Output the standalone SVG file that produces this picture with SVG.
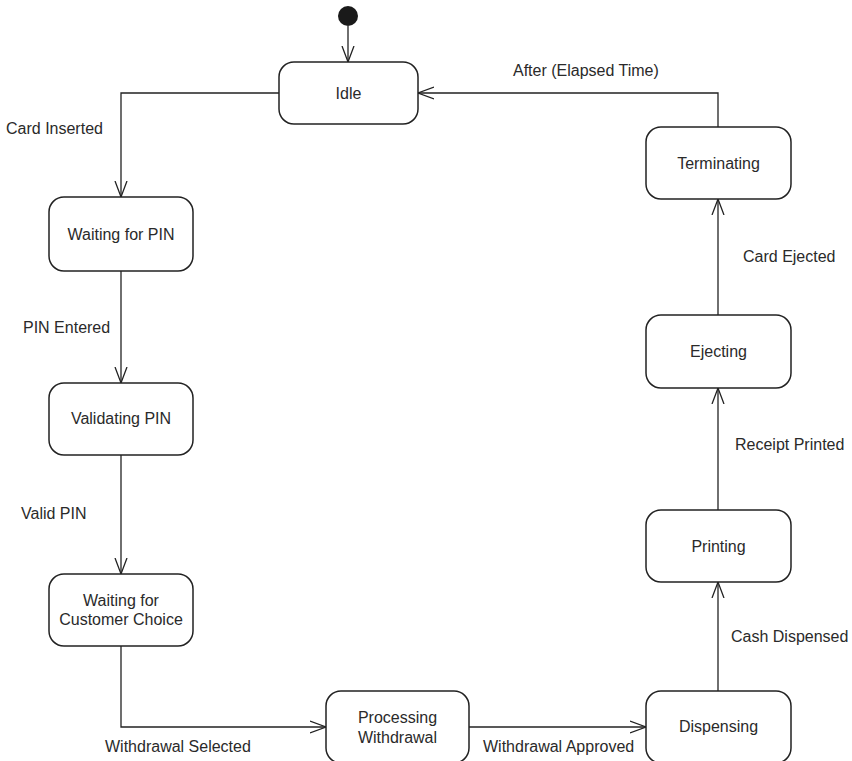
<svg xmlns="http://www.w3.org/2000/svg" width="852" height="761" viewBox="0 0 852 761">
<style>
.st{fill:#fff;stroke:#222;stroke-width:1.5}
.t{font-family:"Liberation Sans",Arial,sans-serif;font-size:16px;fill:#2a2a2a;text-anchor:middle;dominant-baseline:central}
.l{font-family:"Liberation Sans",Arial,sans-serif;font-size:16px;fill:#2a2a2a;dominant-baseline:central}
.c{fill:none;stroke:#222;stroke-width:1.3}
</style>
<defs>
<marker id="arr" markerUnits="userSpaceOnUse" markerWidth="20" markerHeight="16" refX="16" refY="7" orient="auto">
<path d="M0,1 L16,7 L0,13" fill="none" stroke="#222" stroke-width="1.3"/>
</marker>
</defs>
<rect width="852" height="761" fill="#fff"/>
<g id="connectors">
<path class="c" d="M348,26 V62" marker-end="url(#arr)"/>
<path class="c" d="M279,93 H121 V197" marker-end="url(#arr)"/>
<path class="c" d="M121,271 V383" marker-end="url(#arr)"/>
<path class="c" d="M121,455 V574" marker-end="url(#arr)"/>
<path class="c" d="M121,646 V727 H326" marker-end="url(#arr)"/>
<path class="c" d="M469,727 H646" marker-end="url(#arr)"/>
<path class="c" d="M718,691 V582" marker-end="url(#arr)"/>
<path class="c" d="M718,510 V388" marker-end="url(#arr)"/>
<path class="c" d="M718,315 V199" marker-end="url(#arr)"/>
<path class="c" d="M718,127 V93 H418" marker-end="url(#arr)"/>
<text class="l" x="513" y="70" font-size="16.5">After (Elapsed Time)</text>
<text class="l" x="6" y="128">Card Inserted</text>
<text class="l" x="23" y="327">PIN Entered</text>
<text class="l" x="21" y="513">Valid PIN</text>
<text class="l" x="105" y="746">Withdrawal Selected</text>
<text class="l" x="483" y="746">Withdrawal Approved</text>
<text class="l" x="731" y="636">Cash Dispensed</text>
<text class="l" x="735" y="444">Receipt Printed</text>
<text class="l" x="743" y="256">Card Ejected</text>
</g>
<g id="initial"><circle cx="348" cy="16" r="10" fill="#1a1a1a"/></g>
<g id="idle"><rect class="st" x="279" y="62" width="139" height="62" rx="15"/><text class="t" x="348.5" y="93">Idle</text></g>
<g id="waitingPin"><rect class="st" x="49" y="197" width="144" height="74" rx="15"/><text class="t" x="121" y="234">Waiting for PIN</text></g>
<g id="validatingPin"><rect class="st" x="49" y="383" width="144" height="72" rx="15"/><text class="t" x="121" y="418">Validating PIN</text></g>
<g id="waitingChoice"><rect class="st" x="49" y="574" width="144" height="72" rx="15"/><text class="t" x="121" y="600">Waiting for</text><text class="t" x="121" y="619">Customer Choice</text></g>
<g id="processing"><rect class="st" x="326" y="691" width="143" height="72" rx="15"/><text class="t" x="397.5" y="717">Processing</text><text class="t" x="397.5" y="737">Withdrawal</text></g>
<g id="dispensing"><rect class="st" x="646" y="691" width="145" height="72" rx="15"/><text class="t" x="718.5" y="726">Dispensing</text></g>
<g id="printing"><rect class="st" x="646" y="510" width="145" height="72" rx="15"/><text class="t" x="718.5" y="546">Printing</text></g>
<g id="ejecting"><rect class="st" x="646" y="315" width="145" height="73" rx="15"/><text class="t" x="718.5" y="351">Ejecting</text></g>
<g id="terminating"><rect class="st" x="646" y="127" width="145" height="72" rx="15"/><text class="t" x="718.5" y="163">Terminating</text></g>
</svg>
